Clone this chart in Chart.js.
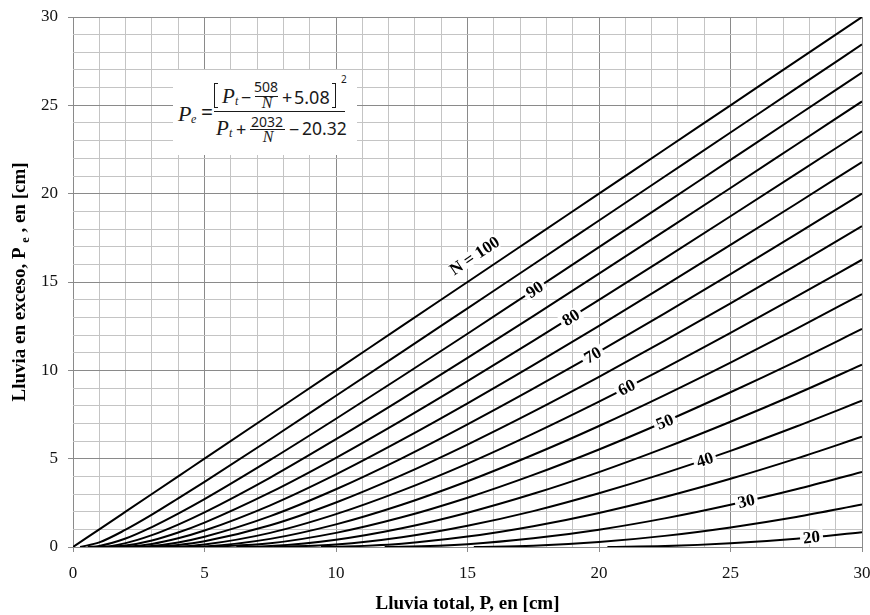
<!DOCTYPE html>
<html>
<head>
<meta charset="utf-8">
<script src="https://cdn.jsdelivr.net/npm/chart.js@4/dist/chart.umd.min.js"></script>
<style>
  html, body { margin: 0; padding: 0; background: #fff; }
  #wrap { position: relative; width: 870px; height: 615px; overflow: hidden; }
  #c { display: block; }
  #formula { position: absolute; left: 173px; top: 70px; width: 184px; height: 85px; background: #fff; }
  .f { position: absolute; line-height: 1; white-space: nowrap; color: #1a1a1a; transform: translateY(-52%); }
  .it { font-family: "Liberation Serif", serif; font-style: italic; }
  .num { font-family: "Noto Sans", sans-serif; }
  .ctr { transform: translate(-50%, -52%); }
  .bar { position: absolute; height: 1.4px; background: #1a1a1a; }
  .brk { position: absolute; border: 1.6px solid #1a1a1a; width: 4px; height: 25px; box-sizing: border-box; }
</style>
</head>
<body>
<div id="wrap">
  <canvas id="c" width="870" height="615" style="width:870px;height:615px"></canvas>
  <div id="formula"></div>
</div>
<script>
// Total rainfall P [cm] at which each curve is sampled
const P = [0, 1, 2, 3, 4, 5, 7.5, 10, 12.5, 15, 17.5, 20, 22.5, 25, 27.5, 30];

// Curve numbers, one curve each
const curveN = [100, 95, 90, 85, 80, 75, 70, 65, 60, 55, 50, 45, 40, 35, 30, 25, 20];

// Rainfall at which runoff starts for each curve (initial abstraction) [cm]
const onsetP = [0, 0.27, 0.56, 0.90, 1.27, 1.69, 2.18, 2.74, 3.39, 4.16, 5.08, 6.21, 7.62, 9.43, 11.85, 15.24, 20.32];

// Excess rainfall Pe [cm] at each P above; null before runoff starts
const pe100 = [0, 1, 2, 3, 4, 5, 7.5, 10, 12.5, 15, 17.5, 20, 22.5, 25, 27.5, 30];
const pe95 = [null, 0.26, 0.98, 1.83, 2.75, 3.69, 6.10, 8.56, 11.03, 13.51, 15.99, 18.48, 20.97, 23.46, 25.96, 28.45];
const pe90 = [null, 0.06, 0.48, 1.13, 1.89, 2.71, 4.93, 7.26, 9.65, 12.07, 14.52, 16.97, 19.44, 21.91, 24.38, 26.86];
const pe85 = [null, 0.00, 0.22, 0.67, 1.27, 1.96, 3.93, 6.10, 8.37, 10.70, 13.07, 15.47, 17.89, 20.32, 22.77, 25.22];
const pe80 = [null, null, 0.08, 0.37, 0.82, 1.38, 3.09, 5.05, 7.17, 9.39, 11.67, 13.99, 16.34, 18.72, 21.12, 23.53];
const pe75 = [null, null, 0.01, 0.17, 0.49, 0.93, 2.36, 4.11, 6.06, 8.13, 10.29, 12.52, 14.79, 17.10, 19.43, 21.79];
const pe70 = [null, null, null, 0.06, 0.26, 0.58, 1.75, 3.27, 5.02, 6.94, 8.96, 11.06, 13.23, 15.45, 17.71, 20.00];
const pe65 = [null, null, null, 0.01, 0.11, 0.32, 1.23, 2.52, 4.07, 5.80, 7.66, 9.63, 11.68, 13.79, 15.95, 18.16];
const pe60 = [null, null, null, null, 0.02, 0.14, 0.80, 1.86, 3.19, 4.72, 6.42, 8.23, 10.13, 12.12, 14.17, 16.26];
const pe55 = [null, null, null, null, null, 0.03, 0.46, 1.28, 2.39, 3.72, 5.22, 6.85, 8.60, 10.44, 12.35, 14.32];
const pe50 = [null, null, null, null, null, null, 0.21, 0.80, 1.68, 2.79, 4.08, 5.52, 7.09, 8.76, 10.51, 12.34];
const pe45 = [null, null, null, null, null, null, 0.05, 0.41, 1.06, 1.94, 3.01, 4.24, 5.61, 7.09, 8.66, 10.32];
const pe40 = [null, null, null, null, null, null, null, 0.14, 0.55, 1.20, 2.03, 3.04, 4.18, 5.44, 6.82, 8.28];
const pe35 = [null, null, null, null, null, null, null, 0.01, 0.19, 0.59, 1.18, 1.93, 2.83, 3.86, 5.00, 6.24];
const pe30 = [null, null, null, null, null, null, null, null, 0.01, 0.16, 0.49, 0.98, 1.62, 2.39, 3.27, 4.25];
const pe25 = [null, null, null, null, null, null, null, null, null, null, 0.07, 0.28, 0.63, 1.11, 1.70, 2.40];
const pe20 = [null, null, null, null, null, null, null, null, null, null, null, null, 0.05, 0.21, 0.47, 0.84];

const peSeries = [pe100, pe95, pe90, pe85, pe80, pe75, pe70, pe65, pe60, pe55, pe50, pe45, pe40, pe35, pe30, pe25, pe20];

// Curve labels: which curve, its text, and the P where it sits
const labelN = [100, 90, 80, 70, 60, 50, 40, 30, 20];
const labelText = ['N = 100', '90', '80', '70', '60', '50', '40', '30', '20'];
const labelAtP = [15.65, 17.55, 18.93, 19.76, 21.05, 22.5, 24.02, 25.6, 28.08];
const labelLift = [18, 0, 0, 0, 0, 0, 0, 0, 0];

// Axis ticks
const tickStep = 1;
const majorStep = 5;

const MAJOR = '#8a8a8a';
const MINOR = '#c4c4c4';

const datasets = curveN.map((n, i) => {
  const pts = [{ x: onsetP[i], y: 0 }];
  P.forEach((p, k) => {
    const v = peSeries[i][k];
    if (v !== null && p > onsetP[i]) pts.push({ x: p, y: v });
  });
  return { label: 'N = ' + n, data: pts };
});

function valueAt(data, x) {
  for (let k = 0; k < data.length - 1; k++) {
    const a = data[k], b = data[k + 1];
    if (x >= a.x && x <= b.x) {
      const t = (x - a.x) / (b.x - a.x);
      return a.y + t * (b.y - a.y);
    }
  }
  return data[data.length - 1].y;
}

// Rotated curve labels on a white backing
const curveLabels = {
  id: 'curveLabels',
  afterDatasetsDraw(chart) {
    const { ctx, scales: { x, y } } = chart;
    ctx.save();
    ctx.font = 'bold 17px "Liberation Serif", serif';
    ctx.textAlign = 'center';
    ctx.textBaseline = 'middle';
    labelN.forEach((n, j) => {
      const ds = chart.data.datasets[curveN.indexOf(n)].data;
      const p = labelAtP[j];
      const px = x.getPixelForValue(p);
      const py = y.getPixelForValue(valueAt(ds, p));
      const x1 = x.getPixelForValue(p - 0.6), y1 = y.getPixelForValue(valueAt(ds, p - 0.6));
      const x2 = x.getPixelForValue(p + 0.6), y2 = y.getPixelForValue(valueAt(ds, p + 0.6));
      const ang = Math.atan2(y2 - y1, x2 - x1);
      ctx.save();
      ctx.translate(px, py);
      ctx.rotate(ang);
      const w = ctx.measureText(labelText[j]).width;
      const oy = -labelLift[j];
      ctx.fillStyle = 'rgba(255,255,255,0.95)';
      ctx.fillRect(-w / 2 - 3, oy - 7, w + 6, 14);
      ctx.fillStyle = '#000';
      ctx.fillText(labelText[j], 0, oy + 1);
      ctx.restore();
    });
    ctx.restore();
  }
};

// Axis titles (the y title carries a subscript)
const axisTitles = {
  id: 'axisTitles',
  afterDraw(chart) {
    const { ctx, chartArea } = chart;
    const big = 'bold 19px "Liberation Serif", serif';
    const small = 'bold 12px "Liberation Serif", serif';
    ctx.save();
    ctx.fillStyle = '#000';
    ctx.textBaseline = 'alphabetic';
    ctx.font = big;
    ctx.textAlign = 'center';
    ctx.fillText('Lluvia total, P, en [cm]', (chartArea.left + chartArea.right) / 2, 609);

    const parts = [
      { t: 'Lluvia en exceso, P ', f: big, dy: 0 },
      { t: 'e', f: small, dy: 4 },
      { t: ' , en [cm]', f: big, dy: 0 }
    ];
    let total = 0;
    parts.forEach(pt => { ctx.font = pt.f; pt.w = ctx.measureText(pt.t).width; total += pt.w; });
    ctx.translate(25, (chartArea.top + chartArea.bottom) / 2);
    ctx.rotate(-Math.PI / 2);
    ctx.textAlign = 'left';
    let cx = -total / 2;
    parts.forEach(pt => {
      ctx.font = pt.f;
      ctx.fillText(pt.t, cx, pt.dy);
      cx += pt.w;
    });
    ctx.restore();
  }
};

const isMajor = v => Math.abs(v % majorStep) < 1e-9;

function axis(extra) {
  return Object.assign({
    type: 'linear',
    min: 0,
    max: 30,
    border: { display: false },
    grid: {
      color: c => (c.tick && isMajor(c.tick.value)) ? MAJOR : MINOR,
      tickColor: c => (c.tick && isMajor(c.tick.value)) ? MAJOR : 'rgba(0,0,0,0)',
      tickLength: 5,
      lineWidth: 1
    },
    ticks: {
      stepSize: tickStep,
      autoSkip: false,
      maxRotation: 0,
      color: '#111',
      font: { family: '"Liberation Serif", serif', size: 17 },
      callback: v => isMajor(v) ? String(v) : ''
    }
  }, extra);
}

const xAxis = axis({
  afterFit(s) { s.height = 68; s.paddingLeft = 0; s.paddingRight = 0; }
});
xAxis.ticks.padding = 11;
const yAxis = axis({
  afterFit(s) { s.width = 73; s.paddingTop = 0; s.paddingBottom = 0; }
});
yAxis.ticks.padding = 10;

new Chart(document.getElementById('c'), {
  type: 'line',
  data: { datasets },
  options: {
    responsive: false,
    animation: false,
    layout: { padding: { left: 0, right: 8, top: 17, bottom: 0 } },
    plugins: { legend: { display: false }, tooltip: { enabled: false } },
    elements: {
      point: { radius: 0 },
      line: { borderWidth: 2, borderColor: '#000', cubicInterpolationMode: 'monotone', fill: false }
    },
    scales: { x: xAxis, y: yAxis }
  },
  plugins: [curveLabels, axisTitles]
});

// Runoff equation box
const F = document.getElementById('formula');
const OX = 173, OY = 70;
function put(text, cls, left, cy, size, center) {
  const s = document.createElement('span');
  s.className = 'f ' + cls + (center ? ' ctr' : '');
  s.textContent = text;
  s.style.left = (left - OX) + 'px';
  s.style.top = (cy - OY) + 'px';
  s.style.fontSize = size + 'px';
  F.appendChild(s);
}
function bar(left, top, width) {
  const d = document.createElement('div');
  d.className = 'bar';
  d.style.left = (left - OX) + 'px';
  d.style.top = (top - OY) + 'px';
  d.style.width = width + 'px';
  F.appendChild(d);
}
function bracket(left, side) {
  const d = document.createElement('div');
  d.className = 'brk';
  d.style.left = (left - OX) + 'px';
  d.style.top = (83 - OY) + 'px';
  d.style[side === 'l' ? 'borderRight' : 'borderLeft'] = 'none';
  F.appendChild(d);
}
put('P', 'it', 178, 114, 22);
put('e', 'it', 191, 119, 12);
put('=', 'num', 201, 113, 21);
bar(214, 111, 131);
bracket(214, 'l');
put('P', 'it', 222, 97, 21);
put('t', 'it', 235, 101, 12);
put('\u2212', 'num', 241, 97, 18);
put('508', 'num', 266, 87, 14, true);
bar(255, 95.5, 23);
put('N', 'it', 267, 102.5, 16, true);
put('+', 'num', 282, 97, 18);
put('5.08', 'num', 294, 97, 18);
bracket(332, 'r');
put('2', 'num', 341, 79, 10);
put('P', 'it', 216, 129, 21);
put('t', 'it', 229, 133, 12);
put('+', 'num', 236, 129, 18);
put('2032', 'num', 267, 122, 14, true);
bar(250, 129, 35);
put('N', 'it', 268, 137, 16, true);
put('\u2212', 'num', 289, 129, 18);
put('20.32', 'num', 302, 129, 17.5);
</script>
</body>
</html>
